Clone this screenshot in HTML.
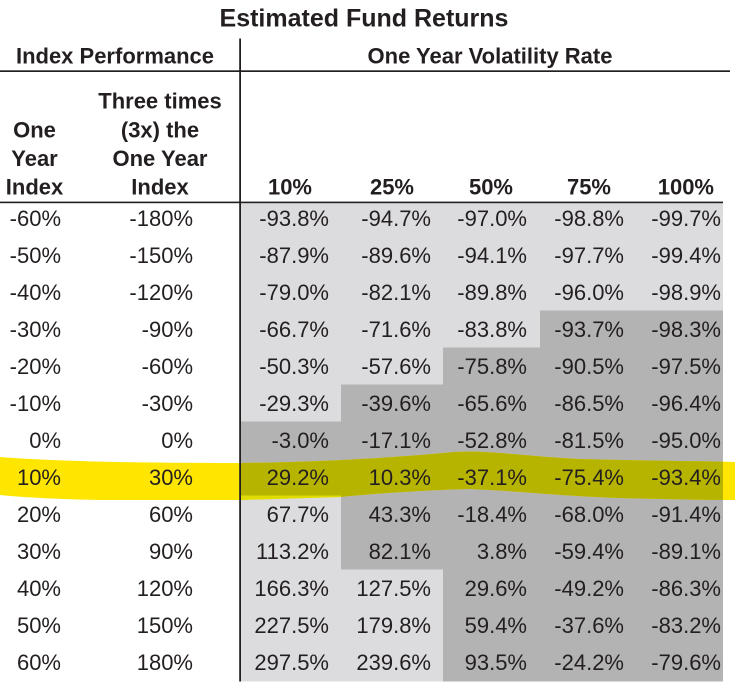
<!DOCTYPE html>
<html>
<head>
<meta charset="utf-8">
<style>
html,body{margin:0;padding:0;background:#fff;}
body{width:744px;height:695px;overflow:hidden;}
svg{display:block;}
text{font-family:"Liberation Sans",Arial,sans-serif;fill:#231f20;}
.b{font-weight:bold;font-size:22px;}
.n{font-size:22px;}
</style>
</head>
<body>
<svg width="744" height="695" viewBox="0 0 744 695" xmlns="http://www.w3.org/2000/svg">
<rect x="0" y="0" width="744" height="695" fill="#fff"/>
<!-- shading -->
<rect x="241" y="203" width="482" height="478.5" fill="#dcdcde"/>
<g fill="#b3b3b4">
<rect x="540" y="310.5" width="183" height="37"/>
<rect x="443" y="347.5" width="280" height="37"/>
<rect x="341" y="384.5" width="382" height="37"/>
<rect x="241" y="421.5" width="482" height="74"/>
<rect x="341" y="495.5" width="382" height="74"/>
<rect x="443" y="569.5" width="280" height="112"/>
</g>
<defs>
<clipPath id="cd"><rect x="241" y="421.5" width="482" height="74"/><rect x="341" y="495.5" width="382" height="37"/></clipPath>
<clipPath id="cl"><rect x="241" y="495.5" width="100" height="37"/></clipPath>
</defs>
<!-- highlight -->
<path fill="#ffe600" d="M0,457 C40,460 100,463 240,463 C330,462 400,457 455,452 C490,450 520,456 580,459 C650,461 700,461 735,462 L735,500 C700,500 660,499 620,498 C560,496 520,491 470,489 C430,490 380,493 340,497 L240,500 L100,500 C50,499 20,497 0,495 Z"/>
<path fill="#b7b400" clip-path="url(#cd)" d="M0,457 C40,460 100,463 240,463 C330,462 400,457 455,452 C490,450 520,456 580,459 C650,461 700,461 735,462 L735,500 C700,500 660,499 620,498 C560,496 520,491 470,489 C430,490 380,493 340,497 L240,500 L100,500 C50,499 20,497 0,495 Z"/>
<path fill="#e0dc00" clip-path="url(#cl)" d="M0,457 C40,460 100,463 240,463 C330,462 400,457 455,452 C490,450 520,456 580,459 C650,461 700,461 735,462 L735,500 C700,500 660,499 620,498 C560,496 520,491 470,489 C430,490 380,493 340,497 L240,500 L100,500 C50,499 20,497 0,495 Z"/>
<!-- lines -->
<rect x="0" y="70.3" width="730" height="1.7" fill="#231f20"/>
<rect x="0" y="201.6" width="723" height="1.6" fill="#231f20"/>
<rect x="239.2" y="38.5" width="1.8" height="643" fill="#231f20"/>
<!-- titles -->
<text x="364" y="26.7" text-anchor="middle" style="font-weight:bold;font-size:25px;">Estimated Fund Returns</text>
<text x="115" y="63.3" text-anchor="middle" class="b">Index Performance</text>
<text x="490" y="63.3" text-anchor="middle" class="b">One Year Volatility Rate</text>
<!-- column headers -->
<text x="34.5" y="137.3" text-anchor="middle" class="b">One</text>
<text x="34.5" y="165.8" text-anchor="middle" class="b">Year</text>
<text x="34.5" y="194.3" text-anchor="middle" class="b">Index</text>
<text x="160" y="108.6" text-anchor="middle" class="b">Three times</text>
<text x="160" y="137.3" text-anchor="middle" class="b">(3x) the</text>
<text x="160" y="165.8" text-anchor="middle" class="b">One Year</text>
<text x="160" y="194.3" text-anchor="middle" class="b">Index</text>
<text x="312" y="194.3" text-anchor="end" class="b">10%</text>
<text x="414" y="194.3" text-anchor="end" class="b">25%</text>
<text x="513" y="194.3" text-anchor="end" class="b">50%</text>
<text x="611" y="194.3" text-anchor="end" class="b">75%</text>
<text x="714" y="194.3" text-anchor="end" class="b">100%</text>
<!-- data -->
<g class="n">
<text x="61" y="226" text-anchor="end" class="n">-60%</text><text x="193" y="226" text-anchor="end" class="n">-180%</text>
<text x="329" y="226" text-anchor="end" class="n">-93.8%</text><text x="431" y="226" text-anchor="end" class="n">-94.7%</text><text x="527" y="226" text-anchor="end" class="n">-97.0%</text><text x="624" y="226" text-anchor="end" class="n">-98.8%</text><text x="721" y="226" text-anchor="end" class="n">-99.7%</text>

<text x="61" y="263" text-anchor="end" class="n">-50%</text><text x="193" y="263" text-anchor="end" class="n">-150%</text>
<text x="329" y="263" text-anchor="end" class="n">-87.9%</text><text x="431" y="263" text-anchor="end" class="n">-89.6%</text><text x="527" y="263" text-anchor="end" class="n">-94.1%</text><text x="624" y="263" text-anchor="end" class="n">-97.7%</text><text x="721" y="263" text-anchor="end" class="n">-99.4%</text>

<text x="61" y="300" text-anchor="end" class="n">-40%</text><text x="193" y="300" text-anchor="end" class="n">-120%</text>
<text x="329" y="300" text-anchor="end" class="n">-79.0%</text><text x="431" y="300" text-anchor="end" class="n">-82.1%</text><text x="527" y="300" text-anchor="end" class="n">-89.8%</text><text x="624" y="300" text-anchor="end" class="n">-96.0%</text><text x="721" y="300" text-anchor="end" class="n">-98.9%</text>

<text x="61" y="337" text-anchor="end" class="n">-30%</text><text x="193" y="337" text-anchor="end" class="n">-90%</text>
<text x="329" y="337" text-anchor="end" class="n">-66.7%</text><text x="431" y="337" text-anchor="end" class="n">-71.6%</text><text x="527" y="337" text-anchor="end" class="n">-83.8%</text><text x="624" y="337" text-anchor="end" class="n">-93.7%</text><text x="721" y="337" text-anchor="end" class="n">-98.3%</text>

<text x="61" y="374" text-anchor="end" class="n">-20%</text><text x="193" y="374" text-anchor="end" class="n">-60%</text>
<text x="329" y="374" text-anchor="end" class="n">-50.3%</text><text x="431" y="374" text-anchor="end" class="n">-57.6%</text><text x="527" y="374" text-anchor="end" class="n">-75.8%</text><text x="624" y="374" text-anchor="end" class="n">-90.5%</text><text x="721" y="374" text-anchor="end" class="n">-97.5%</text>

<text x="61" y="411" text-anchor="end" class="n">-10%</text><text x="193" y="411" text-anchor="end" class="n">-30%</text>
<text x="329" y="411" text-anchor="end" class="n">-29.3%</text><text x="431" y="411" text-anchor="end" class="n">-39.6%</text><text x="527" y="411" text-anchor="end" class="n">-65.6%</text><text x="624" y="411" text-anchor="end" class="n">-86.5%</text><text x="721" y="411" text-anchor="end" class="n">-96.4%</text>

<text x="61" y="448" text-anchor="end" class="n">0%</text><text x="193" y="448" text-anchor="end" class="n">0%</text>
<text x="329" y="448" text-anchor="end" class="n">-3.0%</text><text x="431" y="448" text-anchor="end" class="n">-17.1%</text><text x="527" y="448" text-anchor="end" class="n">-52.8%</text><text x="624" y="448" text-anchor="end" class="n">-81.5%</text><text x="721" y="448" text-anchor="end" class="n">-95.0%</text>

<text x="61" y="485" text-anchor="end" class="n">10%</text><text x="193" y="485" text-anchor="end" class="n">30%</text>
<text x="329" y="485" text-anchor="end" class="n">29.2%</text><text x="431" y="485" text-anchor="end" class="n">10.3%</text><text x="527" y="485" text-anchor="end" class="n">-37.1%</text><text x="624" y="485" text-anchor="end" class="n">-75.4%</text><text x="721" y="485" text-anchor="end" class="n">-93.4%</text>

<text x="61" y="522" text-anchor="end" class="n">20%</text><text x="193" y="522" text-anchor="end" class="n">60%</text>
<text x="329" y="522" text-anchor="end" class="n">67.7%</text><text x="431" y="522" text-anchor="end" class="n">43.3%</text><text x="527" y="522" text-anchor="end" class="n">-18.4%</text><text x="624" y="522" text-anchor="end" class="n">-68.0%</text><text x="721" y="522" text-anchor="end" class="n">-91.4%</text>

<text x="61" y="559" text-anchor="end" class="n">30%</text><text x="193" y="559" text-anchor="end" class="n">90%</text>
<text x="329" y="559" text-anchor="end" class="n">113.2%</text><text x="431" y="559" text-anchor="end" class="n">82.1%</text><text x="527" y="559" text-anchor="end" class="n">3.8%</text><text x="624" y="559" text-anchor="end" class="n">-59.4%</text><text x="721" y="559" text-anchor="end" class="n">-89.1%</text>

<text x="61" y="596" text-anchor="end" class="n">40%</text><text x="193" y="596" text-anchor="end" class="n">120%</text>
<text x="329" y="596" text-anchor="end" class="n">166.3%</text><text x="431" y="596" text-anchor="end" class="n">127.5%</text><text x="527" y="596" text-anchor="end" class="n">29.6%</text><text x="624" y="596" text-anchor="end" class="n">-49.2%</text><text x="721" y="596" text-anchor="end" class="n">-86.3%</text>

<text x="61" y="633" text-anchor="end" class="n">50%</text><text x="193" y="633" text-anchor="end" class="n">150%</text>
<text x="329" y="633" text-anchor="end" class="n">227.5%</text><text x="431" y="633" text-anchor="end" class="n">179.8%</text><text x="527" y="633" text-anchor="end" class="n">59.4%</text><text x="624" y="633" text-anchor="end" class="n">-37.6%</text><text x="721" y="633" text-anchor="end" class="n">-83.2%</text>

<text x="61" y="670" text-anchor="end" class="n">60%</text><text x="193" y="670" text-anchor="end" class="n">180%</text>
<text x="329" y="670" text-anchor="end" class="n">297.5%</text><text x="431" y="670" text-anchor="end" class="n">239.6%</text><text x="527" y="670" text-anchor="end" class="n">93.5%</text><text x="624" y="670" text-anchor="end" class="n">-24.2%</text><text x="721" y="670" text-anchor="end" class="n">-79.6%</text>
</g>
</svg>
</body>
</html>
